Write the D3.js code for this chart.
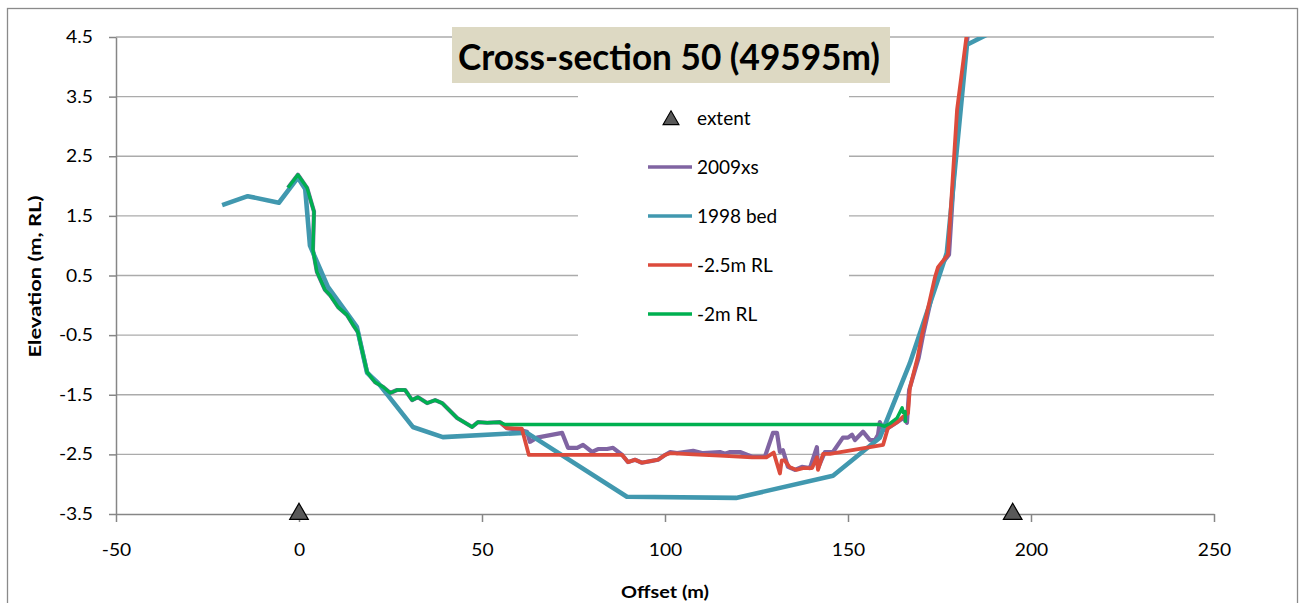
<!DOCTYPE html>
<html><head><meta charset="utf-8">
<script src="https://cdn.jsdelivr.net/npm/d3@7"></script>
<style>
html,body{margin:0;padding:0;background:#fff;}
svg{display:block;font-family:Lato,"Open Sans",sans-serif;}
</style></head>
<body><svg id="c" width="1305" height="603"></svg>
<script>
// ---------- data ----------
const titleText = "Cross-section 50 (49595m)";
const xTicks = [-50, 0, 50, 100, 150, 200, 250];
const yTicks = [-3.5, -2.5, -1.5, -0.5, 0.5, 1.5, 2.5, 3.5, 4.5];
const seriesNames = ["extent", "2009xs", "1998 bed", "-2.5m RL", "-2m RL"];

const extentX = [0, 195];
const extentY = [-3.5, -3.5];

const xs2009 = [-3.0,-0.3,2.2,4.1,3.8,4.9,7.1,8.5,10.7,13.1,14.8,16.1,18.6,20.8,23.0,24.9,26.8,29.0,30.9,32.5,35.0,37.2,39.1,43.2,47.3,48.9,51.4,54.9,56.8,60.4,62.3,63.1,65.0,71.9,73.5,76.0,77.6,80.1,81.7,84.2,85.8,88.3,89.9,91.8,93.7,96.4,98.1,100.0,101.4,103.3,107.7,110.4,115.0,116.4,117.8,120.5,123.8,127.3,129.5,130.6,131.4,132.2,133.6,135.5,137.4,139.6,141.5,141.8,143.7,145.9,148.6,150.0,151.1,151.9,154.1,156.0,157.4,158.2,158.7,159.3,160.1,163.4,165.1,166.1,166.7,169.3,170.5,174.1,174.9,177.6,180.1,182.8];
const ys2009 = [1.97,2.19,1.97,1.57,0.93,0.56,0.26,0.17,-0.03,-0.16,-0.33,-0.45,-1.12,-1.29,-1.37,-1.47,-1.42,-1.42,-1.59,-1.54,-1.64,-1.59,-1.64,-1.89,-2.04,-1.96,-1.97,-1.96,-2.06,-2.09,-2.12,-2.29,-2.22,-2.14,-2.39,-2.39,-2.34,-2.46,-2.41,-2.41,-2.39,-2.51,-2.63,-2.59,-2.64,-2.61,-2.59,-2.51,-2.46,-2.48,-2.44,-2.48,-2.46,-2.49,-2.46,-2.46,-2.54,-2.54,-2.14,-2.14,-2.46,-2.43,-2.71,-2.76,-2.71,-2.73,-2.38,-2.73,-2.46,-2.46,-2.22,-2.22,-2.17,-2.26,-2.12,-2.26,-2.26,-2.17,-1.96,-2.04,-2.09,-1.96,-1.89,-1.97,-1.42,-0.88,-0.50,0.48,0.64,0.85,3.28,4.57];

const xs1998 = [-21,-14,-5.5,-0.3,1.7,3.0,7.9,13.1,15.8,18.6,21.6,31.1,39.3,60.9,62.3,89.6,119.4,145.9,158.7,166.9,174.3,177.0,182.5,188.3,192];
const ys1998 = [1.68,1.83,1.72,2.14,1.95,1.0,0.31,-0.13,-0.36,-1.13,-1.3,-2.04,-2.21,-2.14,-2.14,-3.21,-3.23,-2.86,-2.22,-0.97,0.38,0.88,4.37,4.55,4.62];

const xsRL25 = [54.9,56.8,60.9,62.8,88.3,89.9,91.8,93.7,96.4,98.1,100.0,101.4,107.7,115.0,123.8,127.7,129.7,131.4,131.9,132.7,134.0,135.9,137.7,140.2,141.5,141.8,143.2,145.1,156.0,159.6,160.9,163.4,165.0,166.4,166.9,169.0,170.2,173.8,174.6,177.3,179.8,182.5];
const ysRL25 = [-1.96,-2.06,-2.07,-2.51,-2.51,-2.63,-2.59,-2.64,-2.61,-2.59,-2.51,-2.48,-2.50,-2.52,-2.55,-2.55,-2.47,-2.82,-2.60,-2.60,-2.71,-2.76,-2.73,-2.73,-2.55,-2.76,-2.49,-2.49,-2.38,-2.34,-2.06,-1.96,-1.87,-1.81,-1.39,-0.88,-0.50,0.48,0.64,0.85,3.28,4.57];

const xsRL2 = [-3.0,-0.3,2.2,4.1,3.8,4.9,7.1,8.5,10.7,13.1,14.8,16.1,18.6,20.8,23.0,24.9,26.8,29.0,30.9,32.5,35.0,37.2,39.1,43.2,47.3,48.9,51.4,54.9,56.3,158.7,160.0,161.5,163.4,164.8,165.1,165.6,165.7];
const ysRL2 = [1.97,2.19,1.97,1.57,0.93,0.56,0.26,0.17,-0.03,-0.16,-0.33,-0.45,-1.12,-1.29,-1.37,-1.47,-1.42,-1.42,-1.59,-1.54,-1.64,-1.59,-1.64,-1.89,-2.04,-1.96,-1.97,-1.96,-2.0,-2.0,-2.03,-1.98,-1.89,-1.72,-1.80,-1.78,-1.97];

const colors = {"2009xs":"#8064a2","1998 bed":"#4198af","-2.5m RL":"#dc4b3c","-2m RL":"#00b050"};

// ---------- chart ----------
const svg = d3.select("#c");
const plot = {l:116, r:1214, t:37, b:514};
const x = d3.scaleLinear().domain([-50, 250]).range([plot.l, plot.r]);
const y = d3.scaleLinear().domain([-3.5, 4.5]).range([plot.b, plot.t]);
const hy = f => (d => f(d).replace("\u2212", "-"));

// outer frame
svg.append("rect").attr("x",7.5).attr("y",8.5).attr("width",1290).attr("height",610)
  .attr("fill","#fff").attr("stroke","#8a8a8a").attr("stroke-width",1.3);

// gridlines
svg.append("g").selectAll("line").data(yTicks.slice(1)).join("line")
  .attr("x1",plot.l).attr("x2",plot.r).attr("y1",d=>y(d)).attr("y2",d=>y(d))
  .attr("stroke","#ababab").attr("stroke-width",1.3);

// axes
const gx = svg.append("g").attr("transform",`translate(0,${plot.b})`)
  .call(d3.axisBottom(x).tickValues(xTicks).tickSize(8).tickPadding(22).tickSizeOuter(0).tickFormat(hy(d3.format("d"))));
const gy = svg.append("g").attr("transform",`translate(${plot.l},0)`)
  .call(d3.axisLeft(y).tickValues(yTicks).tickSize(7).tickPadding(14).tickSizeOuter(0).tickFormat(hy(d3.format(".1f"))));
[gx, gy].forEach(g => {
  g.select(".domain").attr("stroke","#868686").attr("stroke-width",1.5);
  g.selectAll(".tick line").attr("stroke","#868686").attr("stroke-width",1.5);
  g.selectAll(".tick text").attr("font-family","Lato, sans-serif").attr("font-size",17.5).attr("fill","#000");
});
gx.selectAll(".tick text").attr("transform","scale(1.1,1)");
gy.selectAll(".tick text").attr("transform","scale(1.1,1)");

// axis titles
svg.append("text").attr("x",x(100)).attr("y",598).attr("text-anchor","middle")
  .attr("font-weight","bold").attr("font-size",17.5).attr("textLength",88).attr("lengthAdjust","spacingAndGlyphs")
  .text("Offset (m)");
svg.append("text").attr("transform",`translate(41,${(plot.t+plot.b)/2+1}) rotate(-90)`).attr("text-anchor","middle")
  .attr("font-weight","bold").attr("font-size",17.5).attr("textLength",162).attr("lengthAdjust","spacingAndGlyphs")
  .text("Elevation (m, RL)");

// clip
svg.append("clipPath").attr("id","pc").append("rect")
  .attr("x",plot.l).attr("y",plot.t).attr("width",plot.r-plot.l).attr("height",plot.b-plot.t);

const line = d3.line().x(d=>x(d[0])).y(d=>y(d[1]));
const series = [
  {name:"2009xs", xs:xs2009, ys:ys2009, w:4.2},
  {name:"1998 bed", xs:xs1998, ys:ys1998, w:4.6},
  {name:"-2.5m RL", xs:xsRL25, ys:ysRL25, w:3.8},
  {name:"-2m RL", xs:xsRL2, ys:ysRL2, w:3.4}
];
const lg = svg.append("g").attr("clip-path","url(#pc)");
series.forEach(s => {
  lg.append("path").datum(d3.zip(s.xs, s.ys)).attr("d",line)
    .attr("fill","none").attr("stroke",colors[s.name]).attr("stroke-width",s.w)
    .attr("stroke-linejoin","round").attr("stroke-linecap","butt");
});

// extent markers
const tri = d3.symbol().type(d3.symbolTriangle).size(150);
svg.append("g").selectAll("path").data(d3.zip(extentX, extentY)).join("path")
  .attr("transform",d=>`translate(${x(d[0])},${y(d[1])})`).attr("d",tri)
  .attr("fill","#595959").attr("stroke","#000").attr("stroke-width",1.2);

// legend
const leg = svg.append("g");
leg.append("rect").attr("x",578).attr("y",90).attr("width",271).attr("height",252).attr("fill","#fff");
const legY = d3.scalePoint().domain(seriesNames).range([118, 314]);
seriesNames.forEach(n => {
  const yy = legY(n);
  if (n === "extent") {
    leg.append("path").attr("transform",`translate(671,${yy+2})`).attr("d",d3.symbol().type(d3.symbolTriangle).size(110))
      .attr("fill","#595959").attr("stroke","#000").attr("stroke-width",1.1);
  } else {
    leg.append("line").attr("x1",648).attr("x2",692).attr("y1",yy).attr("y2",yy)
      .attr("stroke",colors[n]).attr("stroke-width",3.4);
  }
  leg.append("text").attr("x",697).attr("y",yy+7).attr("font-size",19).attr("fill","#000").text(n);
});

// title
const tg = svg.append("g");
tg.append("rect").attr("x",452).attr("y",27).attr("width",438).attr("height",56).attr("fill","#ddd9c3");
tg.append("text").attr("x",458).attr("y",70).attr("font-weight","bold").attr("font-size",36)
  .attr("textLength",422).attr("lengthAdjust","spacingAndGlyphs").attr("fill","#000").text(titleText);
</script></body></html>
